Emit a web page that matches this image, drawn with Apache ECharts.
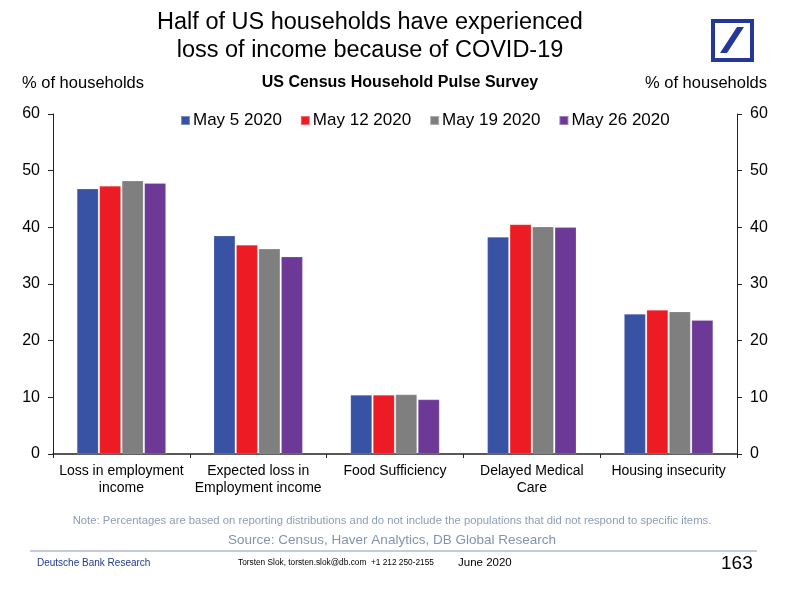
<!DOCTYPE html>
<html><head><meta charset="utf-8">
<script src="https://cdn.jsdelivr.net/npm/echarts@6/dist/echarts.min.js"></script>
<style>html,body{margin:0;padding:0;background:#fff}#c{width:795px;height:594px}</style>
</head><body><div id="c"></div>
<script>
const categories = ['Loss in employment\nincome', 'Expected loss in\nEmployment income', 'Food Sufficiency', 'Delayed Medical\nCare', 'Housing insecurity'];
const seriesNames = ['May 5 2020', 'May 12 2020', 'May 19 2020', 'May 26 2020'];
const may5 = [46.8, 38.5, 10.4, 38.3, 24.7];
const may12 = [47.3, 36.9, 10.4, 40.5, 25.4];
const may19 = [48.2, 36.2, 10.5, 40.1, 25.1];
const may26 = [47.8, 34.8, 9.6, 40.0, 23.6];
const yTicks = [0, 10, 20, 30, 40, 50, 60];
const colors = ['#3953a4', '#ed1c24', '#7f7f7f', '#6c3a96'];
const seriesData = [may5, may12, may19, may26];

const chart = echarts.init(document.getElementById('c'));
const font = 'Liberation Sans, Arial, sans-serif';
const yAxisCommon = {
  type: 'value', min: yTicks[0], max: yTicks[yTicks.length-1], interval: 10,
  axisLine: {show: true, lineStyle: {color: '#222', width: 1}},
  axisTick: {show: true, inside: false, length: 5, lineStyle: {color: '#222'}},
  splitLine: {show: false},
  axisLabel: {color: '#000', fontSize: 16, fontFamily: font, margin: 13}
};
chart.setOption({
  animation: false,
  textStyle: {fontFamily: font},
  grid: {left: 53, right: 58, top: 114, bottom: 140},
  legend: {
    data: seriesNames, top: 107, left: 175, itemWidth: 9, itemHeight: 9, itemGap: 18,
    icon: 'rect', textStyle: {fontSize: 17, color: '#000', fontFamily: font, padding: [0,0,0,-2]}
  },
  xAxis: {
    type: 'category', data: categories,
    axisLine: {show: true, lineStyle: {color: '#222', width: 1.5}},
    axisTick: {show: true, length: 4, lineStyle: {color: '#222'}},
    axisLabel: {color: '#000', fontSize: 14, fontFamily: font, lineHeight: 17, margin: 9, interval: 0}
  },
  yAxis: [
    Object.assign({}, yAxisCommon, {position: 'left'}),
    Object.assign({}, yAxisCommon, {position: 'right'})
  ],
  series: seriesNames.map((n, i) => ({
    name: n, type: 'bar', data: seriesData[i], barGap: '5%', barCategoryGap: '35%',
    itemStyle: {color: colors[i], borderColor: 'rgba(255,255,255,0.35)', borderWidth: 0.5}
  })),
  graphic: [
    {type: 'text', x: 370, y: 9, style: {text: 'Half of US households have experienced\nloss of income because of COVID-19', font: '23.5px ' + font, fill: '#000', align: 'center', lineHeight: 28}},
    {type: 'text', x: 400, y: 75, style: {text: 'US Census Household Pulse Survey', font: 'bold 16px ' + font, fill: '#000', align: 'center'}},
    {type: 'text', x: 22, y: 75, style: {text: '% of households', font: '16.5px ' + font, fill: '#000'}},
    {type: 'text', x: 767, y: 75, style: {text: '% of households', font: '16.5px ' + font, fill: '#000', align: 'right'}},
    {type: 'text', x: 392, y: 515, style: {text: 'Note: Percentages are based on reporting distributions and do not include the populations that did not respond to specific items.', font: '11.3px ' + font, fill: '#8d9db5', align: 'center'}},
    {type: 'text', x: 392, y: 533, style: {text: 'Source: Census, Haver Analytics, DB Global Research', font: '13.5px ' + font, fill: '#8493ad', align: 'center'}},
    {type: 'line', shape: {x1: 30, y1: 551, x2: 757, y2: 551}, style: {stroke: '#8a9ab8', lineWidth: 1.2}},
    {type: 'text', x: 37, y: 558, style: {text: 'Deutsche Bank Research', font: '10px ' + font, fill: '#1f3a93'}},
    {type: 'text', x: 238, y: 559, style: {text: 'Torsten Slok, torsten.slok@db.com  +1 212 250-2155', font: '8.3px ' + font, fill: '#000'}},
    {type: 'text', x: 458, y: 557, style: {text: 'June 2020', font: '11.5px ' + font, fill: '#000'}},
    {type: 'text', x: 721, y: 554, style: {text: '163', font: '19px ' + font, fill: '#000'}},
    {type: 'rect', shape: {x: 713, y: 21, width: 39, height: 39}, style: {fill: 'none', stroke: '#24389a', lineWidth: 4}},
    {type: 'polygon', shape: {points: [[720, 53], [727, 53], [744, 27], [737, 27]]}, style: {fill: '#24389a'}}
  ]
});
</script></body></html>
